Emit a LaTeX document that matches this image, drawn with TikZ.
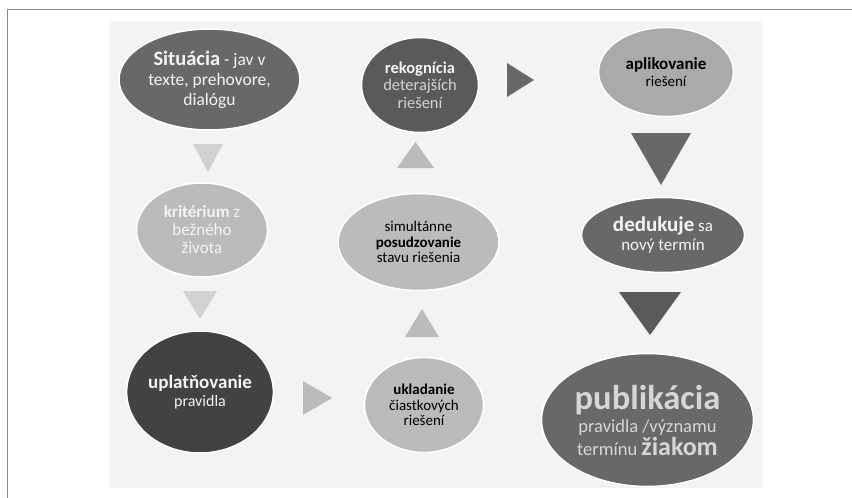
\documentclass[tikz,border=0pt]{standalone}
\usepackage{fontspec}
\setmainfont{Carlito}
\usepackage{tikz}
\usetikzlibrary{shapes.geometric}
\definecolor{panel}{HTML}{F3F3F3}
\definecolor{framegray}{HTML}{8A8A8A}
\definecolor{gdark}{HTML}{424242}
\definecolor{gmid}{HTML}{5A5A5A}
\definecolor{gmed}{HTML}{686868}
\definecolor{glight}{HTML}{BBBBBB}
\definecolor{gpale}{HTML}{AAAAAA}
\definecolor{tpale}{HTML}{D2D2D2}
\definecolor{tlight}{HTML}{F4F4F4}
\tikzstyle{bubble}=[ellipse, draw=white, line width=1.5pt, inner sep=0pt, align=center]
\tikzstyle{darkbubble}=[bubble, fill=gmed, text=tlight]
\tikzstyle{lightbubble}=[bubble, fill=glight, text=black]

\begin{document}
\begin{tikzpicture}[x=1pt, y=-1pt]
        \useasboundingbox (0,0) rectangle (852,498);
        \fill[panel] (109,21) rectangle (763,488);
        \draw[framegray, line width=0.9pt] (852,9) -- (7,9) -- (7,498);
        % left column
        \node[darkbubble, minimum width=181pt, minimum height=101pt,
              font=\fontsize{17.5}{20}\selectfont] (E1) at (209.5,79.5)
              {{\fontsize{20.5}{20}\selectfont\bfseries Situácia} - jav v\\texte, prehovore,\\dialógu};
        \node[lightbubble, text=tlight, minimum width=131pt, minimum height=94pt,
              font=\fontsize{17}{18}\selectfont] (E2) at (202,230)
              {\textbf{kritérium} z\\bežného\\života};
        \node[darkbubble, fill=gdark, minimum width=141pt, minimum height=122pt,
              font=\fontsize{16}{17.5}\selectfont] (E3) at (200,392)
              {{\fontsize{19}{17.5}\selectfont\bfseries uplatňovanie}\\pravidla};
        % middle column
        \node[lightbubble, minimum width=119pt, minimum height=95pt,
              font=\fontsize{15}{15.5}\selectfont] (E4) at (424,405)
              {\textbf{ukladanie}\\čiastkových\\riešení};
        \node[lightbubble, minimum width=161pt, minimum height=97pt,
              font=\fontsize{15}{15.5}\selectfont] (E5) at (418.5,242)
              {simultánne\\\textbf{posudzovanie}\\stavu riešenia};
        \node[darkbubble, fill=gmid, text=tpale, minimum width=117pt, minimum height=95pt,
              font=\fontsize{16.5}{17.5}\selectfont] (E6) at (420,85)
              {\textcolor{tlight}{\bfseries rekognícia}\\deterajších\\riešení};
        % right column
        \node[lightbubble, fill=gpale, minimum width=135pt, minimum height=89pt,
              font=\fontsize{15}{17}\selectfont] (E7) at (666,72)
              {{\fontsize{17}{17}\selectfont\bfseries aplikovanie}\\riešení};
        \node[darkbubble, minimum width=163pt, minimum height=75pt,
              font=\fontsize{17}{19.5}\selectfont] (E8) at (663,235)
              {{\fontsize{21}{19.5}\selectfont\bfseries dedukuje} sa\\nový termín};
        \node[darkbubble, text=tpale!90!white, inner sep=-12pt, minimum width=212pt, minimum height=133pt,
              font=\fontsize{18.5}{23}\selectfont] (E9) at (647.5,420)
              {{\fontsize{34.5}{34}\selectfont\bfseries publikácia}\\pravidla /významu\\termínu {\fontsize{26}{23}\selectfont\bfseries žiakom}};
        % triangles
        \fill[tpale] (193,144) -- (223,144) -- (208,172) -- cycle;
        \fill[tpale] (183,291) -- (217,291) -- (200,319) -- cycle;
        \fill[glight] (303,381) -- (332,398) -- (303,415) -- cycle;
        \fill[glight] (405,337) -- (439,337) -- (422,309) -- cycle;
        \fill[glight] (397,168) -- (434,168) -- (415.5,142) -- cycle;
        \fill[gmed] (507,63) -- (534,80) -- (507,97) -- cycle;
        \fill[gmed] (631,133) -- (691,133) -- (661,185) -- cycle;
        \fill[gmid] (619,292) -- (681,292) -- (650,335) -- cycle;
    \end{tikzpicture}
\end{document}
